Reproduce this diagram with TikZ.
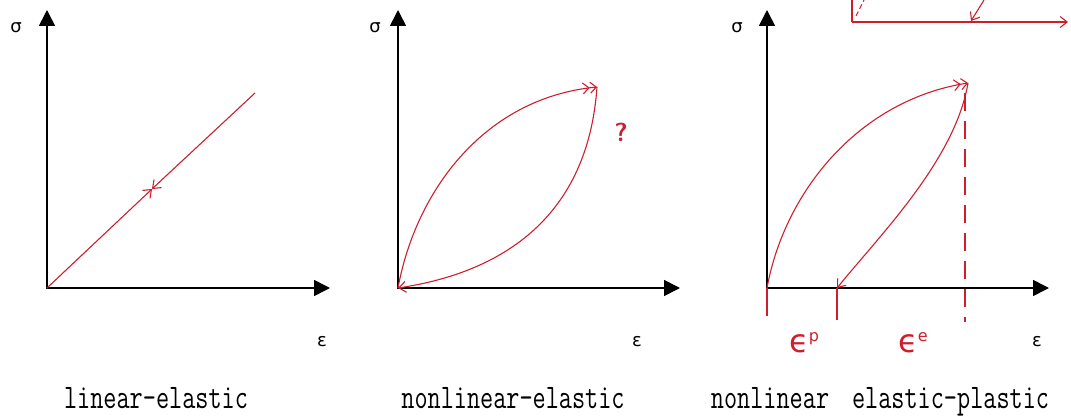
\documentclass[tikz,border=0pt]{standalone}
\usepackage{fontspec}
\newfontfamily\gk{DejaVu Sans}
\usetikzlibrary{arrows.meta}
\definecolor{pen}{RGB}{205,30,45}
\newcommand{\handeps}[1]{{\gk\fontsize{32}{32}\selectfont ϵ}\raisebox{11pt}{\gk\fontsize{16}{16}\selectfont #1}}
\begin{document}
\begin{tikzpicture}[x=1pt,y=-1pt,
 axis/.style={line width=1.6pt, -{Triangle[length=16pt,width=16pt]}},
 curve/.style={draw=pen, line width=1.1pt},
 tipr/.style={-{Straight Barb[length=7pt,width=11pt]}},
 tipd/.style={-{Straight Barb[length=6pt,width=11pt] Straight Barb[length=6pt,width=11pt]}},
 glab/.style={font=\gk\fontsize{18}{18}\selectfont, inner sep=0pt},
 captxt/.style={font=\ttfamily\fontsize{25.5}{26}\selectfont, inner sep=0pt, anchor=base},
 hand/.style={text=pen, inner sep=0pt, anchor=base west}]
\useasboundingbox (0,0) rectangle (1071,417);
% ---------- panel 1 ----------
\coordinate (o1) at (47,288);
\coordinate (y1) at (47,10);
\coordinate (x1) at (330,288);
\draw[axis] (47,289) -- (y1);
\draw[axis] (46,288) -- (x1);
\node[glab] (s1) at (16,28) {σ};
\node[glab] (e1) at (322,342) {ε};
\coordinate (m1) at (152,189);
\coordinate (t1) at (255,93);
\draw[curve,tipr] (o1) -- (m1);
\draw[curve,tipr] (t1) -- (m1);
\node[captxt] (c1) at (156,408) {\scalebox{1}[1.35]{linear-elastic}};
% ---------- panel 2 ----------
\coordinate (o2) at (398,288);
\coordinate (y2) at (398,10);
\coordinate (x2) at (680,288);
\draw[axis] (398,289) -- (y2);
\draw[axis] (397,288) -- (x2);
\node[glab] (s2) at (375,28) {σ};
\node[glab] (e2) at (637,342) {ε};
\coordinate (p2) at (597,87);
\draw[curve,tipd] (o2) .. controls (416,190) and (485,98) .. (p2);
\draw[curve,tipr] (p2) .. controls (588,215) and (505,272) .. (o2);
\node[text=pen, font=\sffamily\bfseries\fontsize{26}{26}\selectfont, inner sep=0pt] (q) at (621,132) {?};
\node[captxt] (c2) at (513,408) {\scalebox{1}[1.35]{nonlinear-elastic}};
% ---------- panel 3 ----------
\coordinate (o3) at (767,288);
\coordinate (y3) at (767,10);
\coordinate (x3) at (1049,288);
\draw[axis] (767,289) -- (y3);
\draw[axis] (766,288) -- (x3);
\node[glab] (s3) at (737,28) {σ};
\node[glab] (e3) at (1037,342) {ε};
\coordinate (p3) at (968,83);
\coordinate (u3) at (837,288);
\coordinate (d3a) at (965,93);
\coordinate (d3b) at (965,322);
\coordinate (k1) at (767,316);
\coordinate (k2) at (837,320);
\draw[curve,tipd] (o3) .. controls (785,190) and (860,100) .. (p3);
\draw[curve,tipr] (p3) .. controls (955,160) and (880,235) .. (u3);
\draw[curve, dash pattern=on 18pt off 10pt] (d3a) -- (d3b);
\draw[curve] (o3) -- (k1);
\draw[curve] (u3) -- (k2);
\node[hand] (ep) at (789,352) {\handeps{p}};
\node[hand] (ee) at (898,352) {\handeps{e}};
\node[captxt] (c3) at (880,408) {\scalebox{1}[1.35]{nonlinear\hspace{0.9em}elastic-plastic}};
% ---------- partial sketch at top right ----------
\coordinate (r0) at (852,0);
\coordinate (r1) at (852,22);
\coordinate (r2) at (1068,22);
\coordinate (r3) at (856,16);
\coordinate (r4) at (864,0);
\coordinate (r5) at (984,0);
\coordinate (r6) at (971,21);
\draw[curve] (r0) -- (r1);
\draw[curve,tipr] (r1) -- (r2);
\draw[curve, dash pattern=on 5pt off 3pt] (r3) -- (r4);
\draw[curve,tipr] (r5) -- (r6);
\end{tikzpicture}
\end{document}
